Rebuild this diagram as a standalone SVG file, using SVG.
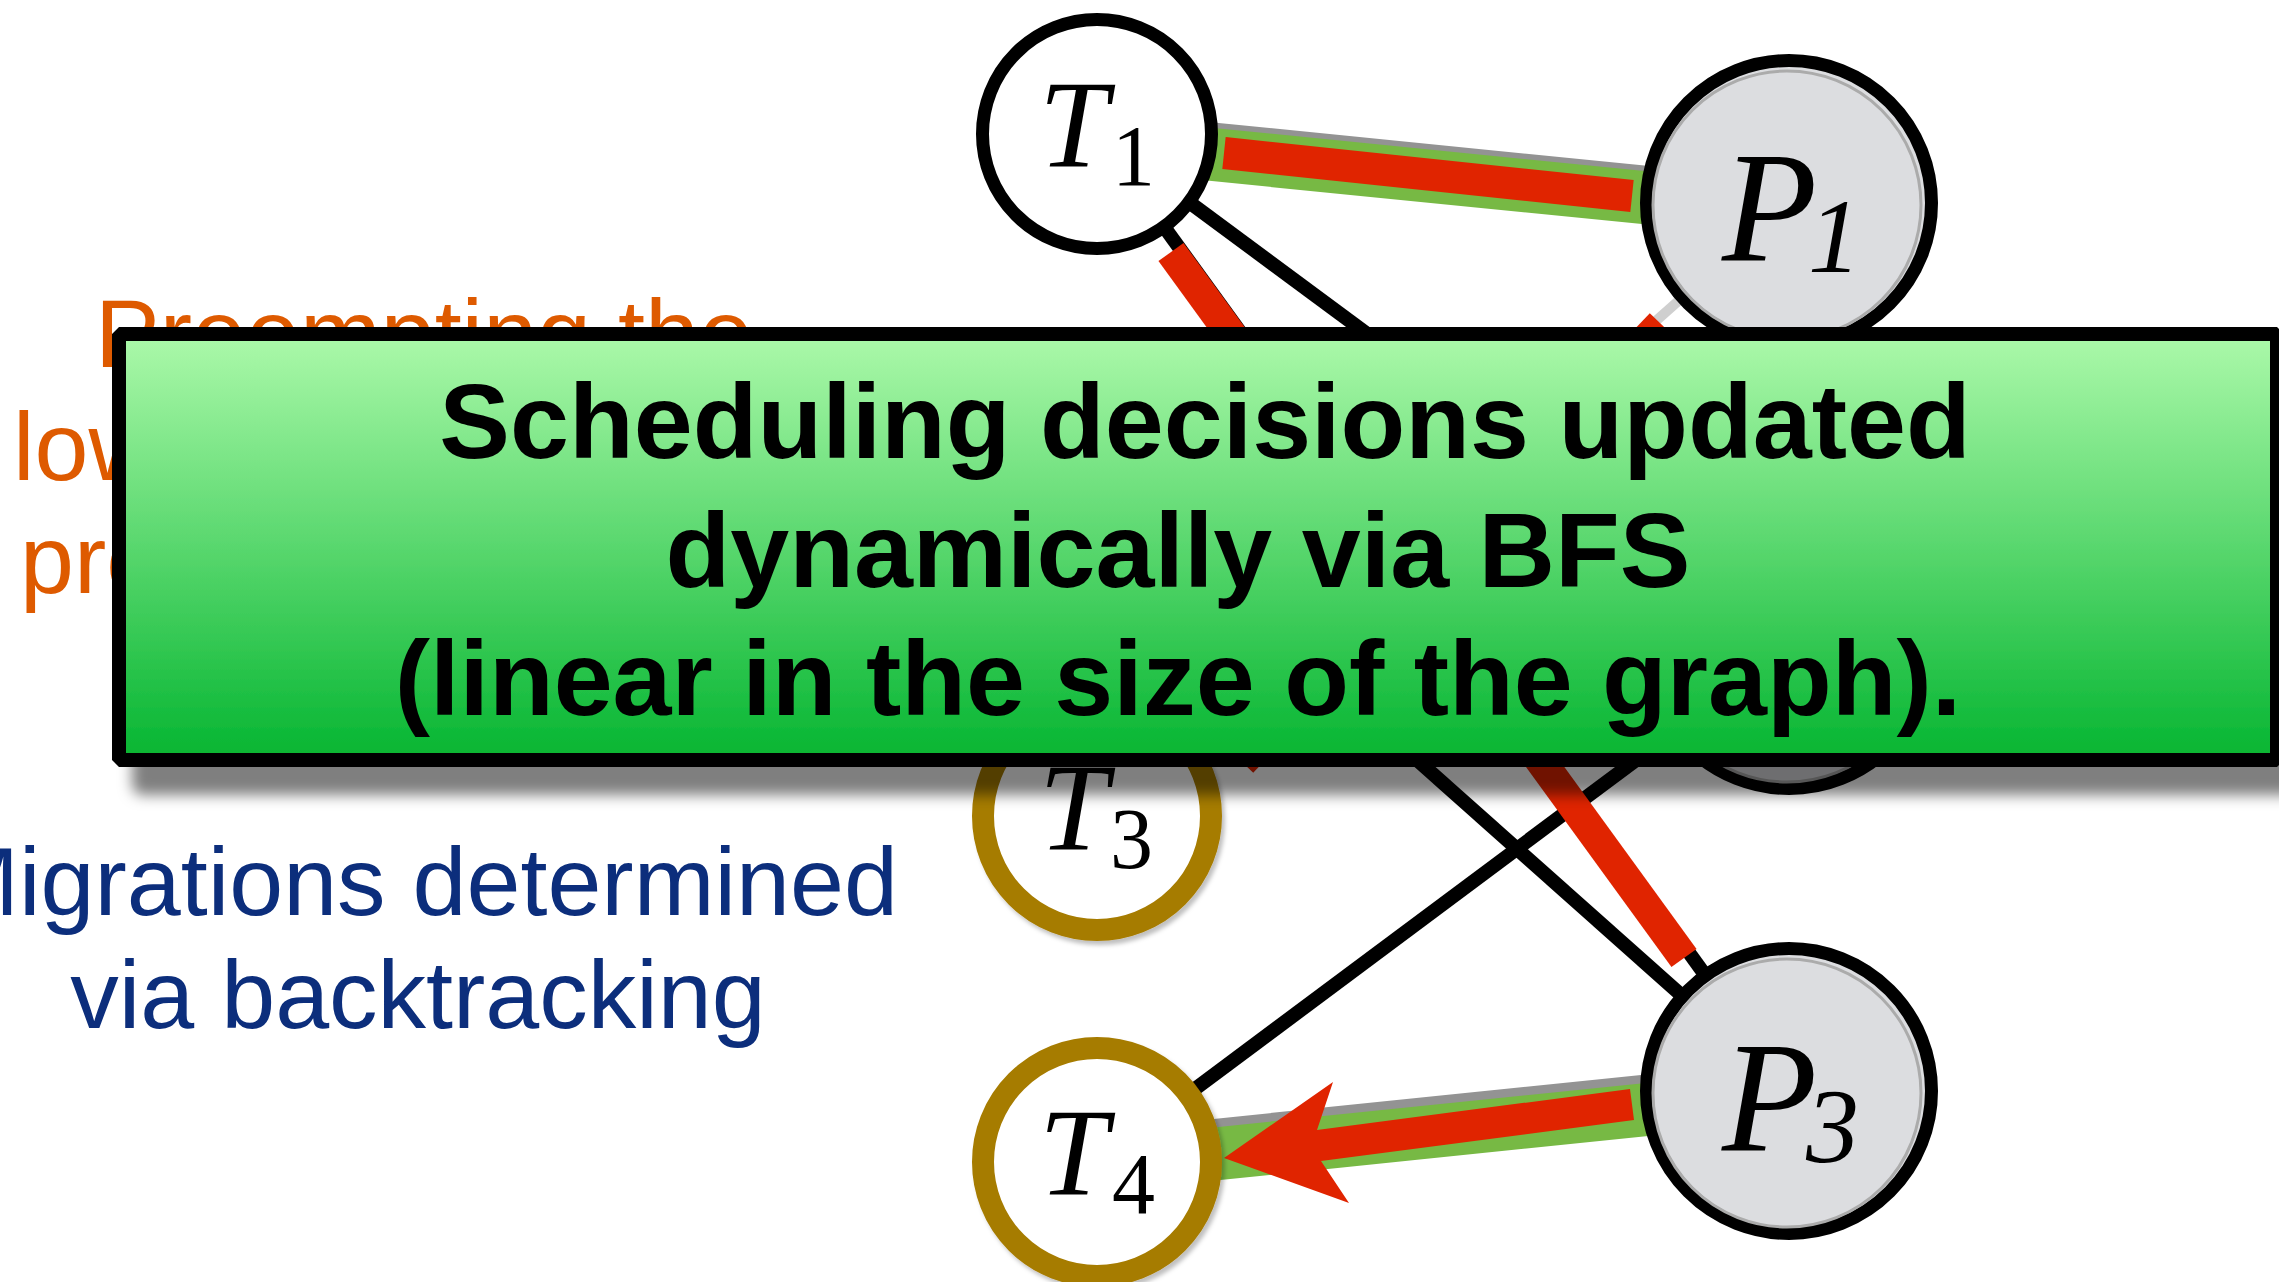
<svg xmlns="http://www.w3.org/2000/svg" width="2279" height="1282" viewBox="0 0 2279 1282">
<style>
.edge{stroke:#000;stroke-width:14;fill:none}
.dim{stroke:#cfcfcf;stroke-width:10;fill:none}
.bgray{stroke:#939393;stroke-width:54;fill:none}
.bgreen{stroke:#77b944;stroke-width:53;fill:none}
.hl{stroke:#e02400;stroke-width:31;fill:none}
.tnode{fill:#fff;stroke:#000;stroke-width:13}
.tgold{fill:#fff;stroke:#a67b00;stroke-width:22}
.pnode{fill:#dcdde0;stroke:#000;stroke-width:13}
.ring{fill:none;stroke:#ababab;stroke-width:3}
.lab{font-family:"Liberation Serif",serif;fill:#000}
.side{font-family:"Liberation Sans",Arial,sans-serif;font-size:97px}
.orange{fill:#de5a00}
.navy{fill:#0c2e7c}
.big{font-family:"Liberation Sans",Arial,sans-serif;font-size:106px;font-weight:bold;fill:#000;text-anchor:middle}
</style>
<defs>
<linearGradient id="gbox" x1="0" y1="0" x2="0" y2="1">
<stop offset="0" stop-color="#acf9aa"/>
<stop offset="1" stop-color="#05b531"/>
</linearGradient>
<filter id="boxsh" x="-5%" y="-10%" width="115%" height="135%">
<feDropShadow dx="20" dy="28" stdDeviation="7" flood-color="#000" flood-opacity="0.5"/>
</filter>
<filter id="nsh" x="-20%" y="-20%" width="140%" height="140%">
<feDropShadow dx="3" dy="4" stdDeviation="2" flood-color="#000" flood-opacity="0.25"/>
</filter>
</defs>
<rect width="2279" height="1282" fill="#fff"/>

<g id="connectors">
<line class="edge" x1="1097" y1="134" x2="1789" y2="203"/>
<line class="edge" x1="1097" y1="134" x2="1789" y2="646"/>
<line class="edge" x1="1097" y1="134" x2="1789" y2="1091"/>
<line class="edge" x1="1097" y1="475" x2="1789" y2="1091"/>
<line class="edge" x1="1097" y1="1162" x2="1789" y2="646"/>
<line class="edge" x1="1097" y1="1162" x2="1789" y2="1091"/>
<line class="dim" x1="1789" y1="203" x2="1097" y2="816"/>
<line class="bgray" x1="1097" y1="138" x2="1789" y2="207"/>
<line class="bgreen" x1="1097" y1="143" x2="1789" y2="212"/>
<line class="bgray" x1="1097" y1="1158" x2="1789" y2="1087"/>
<line class="bgreen" x1="1097" y1="1166" x2="1789" y2="1095"/>
<line class="hl" x1="1224" y1="153" x2="1632" y2="196" style="stroke-width:32"/>
<line class="hl" x1="1171" y1="252" x2="1684" y2="958"/>
<line class="hl" x1="1661" y1="324" x2="1242" y2="762"/>
<polygon fill="#e02400" points="1224,1158 1333,1082 1317,1130 1630,1089 1634,1120 1321,1161 1349,1203"/>
</g>

<g id="T1">
<circle class="tnode" cx="1097" cy="134" r="114.5"/>
<text class="lab" x="1039" y="167"><tspan font-style="italic" font-size="124">T</tspan><tspan x="1112" y="185" font-size="86">1</tspan></text>
</g>
<g id="T2">
<circle class="tnode" cx="1097" cy="475" r="114.5"/>
</g>
<g id="T3">
<circle class="tgold" cx="1097" cy="816" r="114" filter="url(#nsh)"/>
<text class="lab" x="1039" y="850"><tspan font-style="italic" font-size="124">T</tspan><tspan x="1110" y="868" font-size="86">3</tspan></text>
</g>
<g id="T4">
<circle class="tgold" cx="1097" cy="1162" r="114" filter="url(#nsh)"/>
<text class="lab" x="1039" y="1195"><tspan font-style="italic" font-size="124">T</tspan><tspan x="1112" y="1213" font-size="86">4</tspan></text>
</g>
<g id="P1">
<circle class="pnode" cx="1789" cy="203" r="142.5"/>
<circle class="ring" cx="1787" cy="205" r="134"/>
<text class="lab" font-style="italic" x="1722" y="260"><tspan font-size="156">P</tspan><tspan x="1808" y="272" font-size="106">1</tspan></text>
</g>
<g id="P2">
<circle class="pnode" cx="1789" cy="646" r="142.5"/>
<circle class="ring" cx="1787" cy="648" r="134"/>
</g>
<g id="P3">
<circle class="pnode" cx="1789" cy="1091" r="142.5"/>
<circle class="ring" cx="1787" cy="1093" r="134"/>
<text class="lab" font-style="italic" x="1722" y="1150"><tspan font-size="156">P</tspan><tspan x="1806" y="1162" font-size="106">3</tspan></text>
</g>

<g id="orange-note" class="side orange">
<text x="95" y="367">Preempting the</text>
<text x="13" y="480">lowest priority task</text>
<text x="20" y="593">processor</text>
</g>

<g id="navy-note" class="side navy" text-anchor="middle">
<text x="418" y="915">Migrations determined</text>
<text x="418" y="1028">via backtracking</text>
</g>

<g id="callout">
<rect x="119" y="334" width="2158" height="426" fill="url(#gbox)" stroke="#000" stroke-width="14" stroke-linejoin="bevel" filter="url(#boxsh)"/>
<text class="big" x="1205" y="458">Scheduling decisions updated</text>
<text class="big" x="1178" y="587">dynamically via BFS</text>
<text class="big" x="1178" y="715">(linear in the size of the graph).</text>
</g>
</svg>
